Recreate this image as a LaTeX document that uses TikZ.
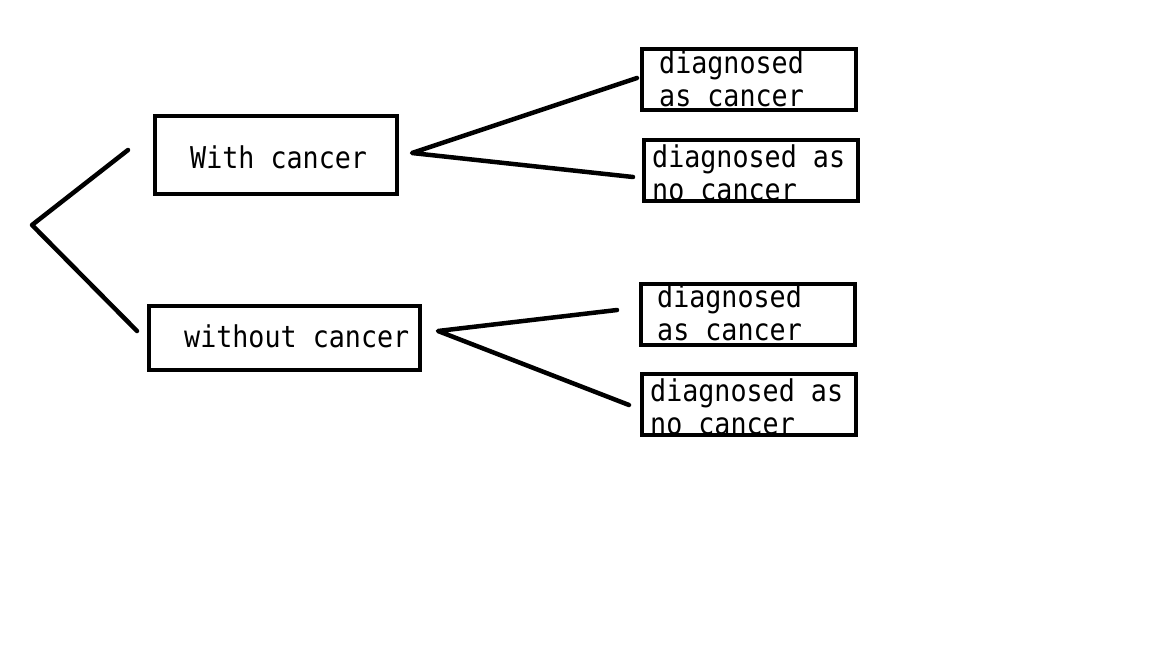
\documentclass[tikz,border=0pt]{standalone}
\usepackage{fontspec}
\newfontfamily\monof[FakeStretch=0.89]{DejaVu Sans Mono}
\begin{document}
\begin{tikzpicture}[x=1pt,y=-1pt,
  box/.style={draw,line width=4pt,inner sep=0pt,minimum width=214pt,minimum height=61pt},
  lbl/.style={anchor=base west,inner sep=0pt,font=\monof\fontsize{30}{33}\selectfont},
  conn/.style={line width=4.5pt,line cap=round,line join=round}]
\useasboundingbox (0,0) rectangle (1152,648);
\fill[white] (0,0) rectangle (1152,648);
% texts
\node[lbl] (t1) at (190,168) {With cancer};
\node[lbl] (t2) at (184,347) {without cancer};
\node[lbl] (t3a) at (659,73) {diagnosed};
\node[lbl] (t3b) at (659,106) {as cancer};
\node[lbl] (t4a) at (652,167) {diagnosed as};
\node[lbl] (t4b) at (652,200) {no cancer};
\node[lbl] (t5a) at (657,307) {diagnosed};
\node[lbl] (t5b) at (657,340) {as cancer};
\node[lbl] (t6a) at (650,401) {diagnosed as};
\node[lbl] (t6b) at (650,434) {no cancer};
% boxes
\node[box,minimum width=242pt,minimum height=78pt] (b1) at (276,155) {};
\node[box,minimum width=271pt,minimum height=64pt] (b2) at (284.5,338) {};
\node[box] (r1) at (749,79.5) {};
\node[box] (r2) at (751,170.5) {};
\node[box] (r3) at (748,314.5) {};
\node[box] (r4) at (749,404.5) {};
% connector points
\coordinate (L1) at (128,150);
\coordinate (L0) at (32,225);
\coordinate (L2) at (137,331);
\coordinate (p1) at (412,153);
\coordinate (q1) at (637,78);
\coordinate (q2) at (633,177);
\coordinate (p2) at (438,331);
\coordinate (q3) at (617,310);
\coordinate (q4) at (629,405);
\draw[conn] (L1) -- (L0) -- (L2);
\draw[conn] (q1) -- (p1) -- (q2);
\draw[conn] (q3) -- (p2) -- (q4);
\end{tikzpicture}
\end{document}
